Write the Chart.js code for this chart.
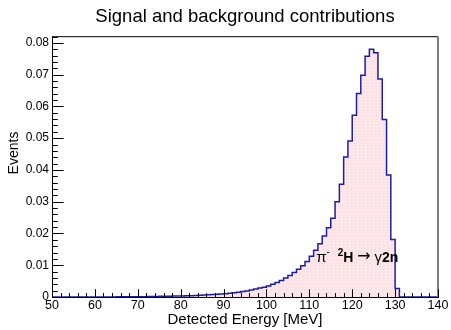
<!DOCTYPE html>
<html>
<head>
<meta charset="utf-8">
<title>Signal and background contributions</title>
<script src="https://cdn.jsdelivr.net/npm/chart.js@4.4.1/dist/chart.umd.min.js"></script>
<style>
  html, body { margin: 0; padding: 0; background: #fff; }
  #wrap { position: relative; width: 451px; height: 330px; }
</style>
</head>
<body>
<div id="wrap"><canvas id="chart"></canvas></div>
<script>
// lower edge of each 1 MeV bin
const binLow = [
  50, 51, 52, 53, 54, 55, 56, 57, 58, 59,
  60, 61, 62, 63, 64, 65, 66, 67, 68, 69,
  70, 71, 72, 73, 74, 75, 76, 77, 78, 79,
  80, 81, 82, 83, 84, 85, 86, 87, 88, 89,
  90, 91, 92, 93, 94, 95, 96, 97, 98, 99,
  100, 101, 102, 103, 104, 105, 106, 107, 108, 109,
  110, 111, 112, 113, 114, 115, 116, 117, 118, 119,
  120, 121, 122, 123, 124, 125, 126, 127, 128, 129,
  130, 131, 132, 133, 134, 135, 136, 137, 138, 139
];
const binHigh = 140;

// events per bin
const events = [
  0, 0, 0, 0, 0, 0, 0, 0, 0, 0,
  0, 0, 0.00002, 0.00002, 0.00003, 0.00003, 0.00004, 0.00005, 0.00006, 0.00007,
  0.00008, 0.0001, 0.00011, 0.00013, 0.00015, 0.00017, 0.0002, 0.00022, 0.00025, 0.00028,
  0.00031, 0.00035, 0.00039, 0.00043, 0.00048, 0.00054, 0.0006, 0.00067, 0.00075, 0.00084,
  0.00094, 0.00105, 0.0012, 0.00135, 0.0015, 0.0017, 0.0019, 0.0022, 0.0025, 0.0028,
  0.0031, 0.0035, 0.0040, 0.0046, 0.0052, 0.0060, 0.0068, 0.0077, 0.0087, 0.0098,
  0.0112, 0.0128, 0.0147, 0.0168, 0.0192, 0.0218, 0.0248, 0.0300, 0.0355, 0.0441,
  0.0491, 0.0572, 0.0641, 0.0698, 0.0758, 0.0780, 0.0769, 0.0686, 0.0559, 0.0384,
  0.0181, 0.0027, 0, 0, 0, 0, 0, 0, 0, 0
];

const xTicks = [50, 60, 70, 80, 90, 100, 110, 120, 130, 140];
const yTicks = [0, 0.01, 0.02, 0.03, 0.04, 0.05, 0.06, 0.07, 0.08];

const FONT = '"Liberation Sans", Arial, Helvetica, sans-serif';

// step outline: one point per bin edge
const points = binLow.map((x, i) => ({ x: x, y: events[i] }));
points.push({ x: binHigh, y: events[events.length - 1] });

// pink fill with the dotted ROOT-like hatch
function pinkPattern() {
  const p = document.createElement('canvas');
  p.width = 4; p.height = 3;
  const g = p.getContext('2d');
  g.fillStyle = '#fce4e6';
  g.fillRect(0, 0, 4, 3);
  g.fillStyle = '#ffffff';
  g.fillRect(1, 0, 1, 1);
  return g.createPattern(p, 'repeat');
}

// ticks drawn inwards, frame, axis titles and the reaction label
const rootStyle = {
  id: 'rootStyle',
  afterDraw(chart) {
    const { ctx, chartArea: a, scales: { x, y } } = chart;
    ctx.save();

    // frame top + right edge
    ctx.strokeStyle = '#000';
    ctx.lineWidth = 1;
    ctx.beginPath();
    ctx.moveTo(a.left, a.top + 0.5);
    ctx.lineTo(a.right, a.top + 0.5);
    ctx.stroke();
    ctx.strokeStyle = '#808080';
    ctx.lineWidth = 2;
    ctx.beginPath();
    ctx.moveTo(a.right, a.top);
    ctx.lineTo(a.right, a.bottom);
    ctx.stroke();

    ctx.strokeStyle = '#000';
    ctx.lineWidth = 1;
    ctx.beginPath();
    const xMajor = (a.bottom - a.top) * 0.03;
    for (let v = x.min; v <= x.max + 1e-9; v += 2) {
      const px = Math.round(x.getPixelForValue(v)) + 0.5;
      const len = v % 10 === 0 ? xMajor : xMajor / 2;
      ctx.moveTo(px, a.bottom);
      ctx.lineTo(px, a.bottom - len);
    }
    const yMajor = (a.right - a.left) * 0.03;
    for (let k = 0; k <= 41; k++) {
      const v = k * 0.002;
      if (v > y.max) break;
      const py = Math.round(y.getPixelForValue(v)) + 0.5;
      const len = k % 5 === 0 ? yMajor : yMajor / 2;
      ctx.moveTo(a.left, py);
      ctx.lineTo(a.left + len, py);
    }
    ctx.stroke();

    // axis titles
    ctx.fillStyle = '#000';
    ctx.font = '15px ' + FONT;
    ctx.textAlign = 'center';
    ctx.textBaseline = 'alphabetic';
    ctx.fillText('Detected Energy [MeV]', (a.left + a.right) / 2, 324);

    ctx.save();
    ctx.translate(18, 153);
    ctx.rotate(-Math.PI / 2);
    ctx.font = '14px ' + FONT;
    ctx.fillText('Events', 0, 0);
    ctx.restore();

    // reaction label, anchored in data coordinates
    let tx = x.getPixelForValue(111.6);
    const base = y.getPixelForValue(0.0111);
    ctx.textAlign = 'left';
    const parts = [
      { t: '\u03c0', f: '15px ' + FONT, dy: 0 },
      { t: '-', f: '10px ' + FONT, dy: -7 },
      { t: '  ', f: '14px ' + FONT, dy: 0 },
      { t: '2', f: 'bold 10px ' + FONT, dy: -6 },
      { t: 'H', f: 'bold 14px ' + FONT, dy: 0 },
      { t: ' ', f: '14px ' + FONT, dy: 0 },
      { t: '\u2192', f: '16px "DejaVu Sans", sans-serif', dy: -1 },
      { t: ' ', f: '14px ' + FONT, dy: 0 },
      { t: '\u03b3', f: '15px ' + FONT, dy: 0 },
      { t: '2n', f: 'bold 14px ' + FONT, dy: 0 }
    ];
    parts.forEach(p => {
      ctx.font = p.f;
      ctx.fillText(p.t, tx, base + p.dy);
      tx += ctx.measureText(p.t).width;
    });

    ctx.restore();
  }
};

new Chart(document.getElementById('chart'), {
  type: 'line',
  data: {
    datasets: [{
      label: 'signal',
      data: points,
      stepped: 'after',
      fill: 'origin',
      backgroundColor: pinkPattern(),
      borderColor: '#1c1ca8',
      borderWidth: 1.5,
      pointRadius: 0,
      tension: 0
    }]
  },
  options: {
    responsive: true,
    maintainAspectRatio: false,
    animation: false,
    layout: { padding: { left: 0, right: 13, top: 0, bottom: 0 } },
    plugins: {
      legend: { display: false },
      tooltip: { enabled: false },
      title: {
        display: true,
        text: 'Signal and background contributions',
        fullSize: false,
        color: '#000',
        font: { family: FONT, size: 18.5, weight: 'normal' },
        padding: { top: 6, bottom: 8 }
      }
    },
    scales: {
      x: {
        type: 'linear',
        min: 50,
        max: 140,
        afterBuildTicks(scale) { scale.ticks = xTicks.map(v => ({ value: v })); },
        afterFit(scale) { scale.height = 33; },
        ticks: {
          color: '#000',
          font: { family: FONT, size: 12.5 },
          padding: 1,
          maxRotation: 0,
          autoSkip: false
        },
        grid: { display: false, drawTicks: false },
        border: { display: true, color: '#000', width: 1 }
      },
      y: {
        min: 0,
        max: 0.0821,
        afterBuildTicks(scale) { scale.ticks = yTicks.map(v => ({ value: v })); },
        afterFit(scale) { scale.width = 52; },
        ticks: {
          color: '#000',
          font: { family: FONT, size: 12 },
          padding: 3,
          autoSkip: false,
          callback: v => (v === 0 ? '0' : v.toFixed(2))
        },
        grid: { display: false, drawTicks: false },
        border: { display: true, color: '#000', width: 1 }
      }
    }
  },
  plugins: [rootStyle]
});
</script>
</body>
</html>
